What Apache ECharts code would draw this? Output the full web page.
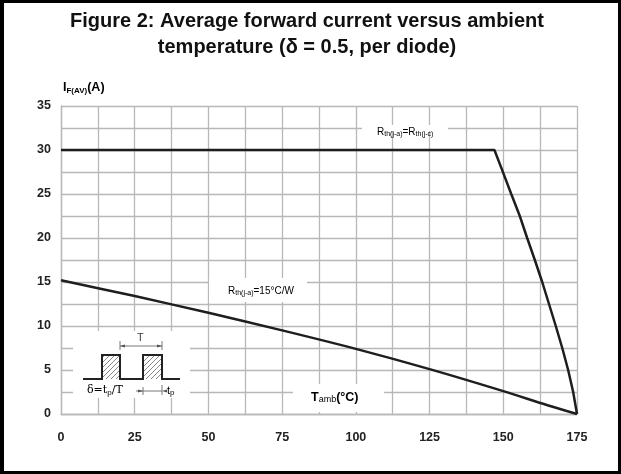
<!DOCTYPE html>
<html>
<head>
<meta charset="utf-8">
<script src="https://cdn.jsdelivr.net/npm/echarts@6/dist/echarts.min.js"></script>
<style>
html,body{margin:0;padding:0;background:#fff;}
#wrap{position:relative;width:621px;height:474px;}
#chart{position:absolute;left:0;top:0;width:621px;height:474px;}
#frame{position:absolute;left:0;top:0;width:621px;height:474px;box-sizing:border-box;border:3px solid #000;border-left-width:4px;pointer-events:none;}
</style>
</head>
<body>
<div id="wrap"><div id="chart"></div><div id="frame"></div></div>
<script>
// Curve: Rth(j-a) = Rth(j-c)
const tempA = [0, 147, 149.3, 152.7, 155.6, 158.1, 160.7, 163.2, 165.5, 167.8, 170, 172, 173.7, 175];
const currentA = [30, 30, 28, 25, 22.5, 20, 17.5, 15, 12.5, 10, 7.5, 5, 2.5, 0];
// Curve: Rth(j-a) = 15°C/W
const tempB = [0, 25, 50, 75, 100, 125, 150, 165, 175];
const currentB = [15.2, 13.4, 11.5, 9.5, 7.4, 5.1, 2.6, 1.0, 0];
const xMin = 0, xMax = 175, xStep = 25;
const yMin = 0, yMax = 35, yStep = 5;

const gridColor = '#b8b8b8';
const lineColor = '#1e1e1e';

// hatch pattern for pulses
const hc = document.createElement('canvas');
hc.width = 5; hc.height = 5;
const hx = hc.getContext('2d');
hx.strokeStyle = '#8a8a8a'; hx.lineWidth = 1;
hx.beginPath(); hx.moveTo(0,5); hx.lineTo(5,0); hx.stroke();
hx.beginPath(); hx.moveTo(-1,1); hx.lineTo(1,-1); hx.stroke();
hx.beginPath(); hx.moveTo(4,6); hx.lineTo(6,4); hx.stroke();

const chart = echarts.init(document.getElementById('chart'));
const subRich = {
  r: {fontSize: 10, color: '#444', fontFamily: 'Liberation Sans'},
  s: {fontSize: 7, color: '#444', fontFamily: 'Liberation Sans', verticalAlign: 'bottom', padding: [4,0,0,0]}
};
chart.setOption({
  animation: false,
  backgroundColor: '#fff',
  grid: {left: 61, right: 44, top: 106, bottom: 60, containLabel: false},
  xAxis: {
    type: 'value', min: xMin, max: xMax, interval: xStep,
    axisLine: {show: true, lineStyle: {color: gridColor, width: 1.3}},
    axisTick: {show: false},
    axisLabel: {margin: 17, fontFamily: 'Liberation Sans', fontWeight: 'bold', fontSize: 12.5, color: '#222'},
    splitLine: {show: true, lineStyle: {color: gridColor, width: 1.3}},
    minorTick: {show: false, splitNumber: 2},
    minorSplitLine: {show: true, lineStyle: {color: gridColor, width: 1.3}}
  },
  yAxis: {
    type: 'value', min: yMin, max: yMax, interval: yStep,
    axisLine: {show: true, lineStyle: {color: gridColor, width: 1.3}},
    axisTick: {show: false},
    axisLabel: {margin: 10, fontFamily: 'Liberation Sans', fontWeight: 'bold', fontSize: 12.5, color: '#222'},
    splitLine: {show: true, lineStyle: {color: gridColor, width: 1.3}},
    minorTick: {show: false, splitNumber: 2},
    minorSplitLine: {show: true, lineStyle: {color: gridColor, width: 1.3}}
  },
  series: [
    {type: 'line', name: 'Rth(j-a)=Rth(j-c)', data: tempA.map((t,i)=>[t,currentA[i]]),
     showSymbol: false, symbol: 'none', smooth: false, z: 5,
     lineStyle: {color: lineColor, width: 2.5}},
    {type: 'line', name: 'Rth(j-a)=15°C/W', data: tempB.map((t,i)=>[t,currentB[i]]),
     showSymbol: false, symbol: 'none', smooth: 0.3, z: 5,
     lineStyle: {color: lineColor, width: 2.5}}
  ],
  graphic: [
    // title
    {type: 'text', z: 3, x: 307, y: 8, style: {
      text: 'Figure 2: Average forward current versus ambient\ntemperature (δ = 0.5, per diode)',
      textAlign: 'center', fontFamily: 'Liberation Sans', fontWeight: 'bold', fontSize: 20, lineHeight: 26, fill: '#111'}},
    // white patches behind labels
    {type: 'rect', z: 1, shape: {x: 362, y: 125, width: 86, height: 6}, style: {fill: '#fff'}},
    {type: 'rect', z: 1, shape: {x: 209, y: 278, width: 98, height: 24}, style: {fill: '#fff'}},
    {type: 'rect', z: 1, shape: {x: 73, y: 331, width: 117, height: 67}, style: {fill: '#fff'}},
    {type: 'rect', z: 1, shape: {x: 293, y: 384, width: 91, height: 28}, style: {fill: '#fff'}},
    // y axis title
    {type: 'text', z: 3, left: 63, top: 81, style: {
      text: '{b|I}{s|F(AV)}{b|(A)}',
      rich: {
        b: {fontFamily: 'Liberation Sans', fontWeight: 'bold', fontSize: 12.5, color: '#222'},
        s: {fontFamily: 'Liberation Sans', fontWeight: 'bold', fontSize: 8, color: '#222', padding: [6,0,0,0]}
      }}},
    // x axis title
    {type: 'text', z: 3, left: 311, top: 391, style: {
      text: '{b|T}{s|amb}{b|(°C)}',
      rich: {
        b: {fontFamily: 'Liberation Sans', fontWeight: 'bold', fontSize: 12.5, color: '#222'},
        s: {fontFamily: 'Liberation Sans', fontWeight: 'normal', fontSize: 9, color: '#222', padding: [5,0,0,0]}
      }}},
    // curve labels
    {type: 'text', z: 3, left: 377, top: 127, style: {text: '{r|R}{s|th(j-a)}{r|=R}{s|th(j-c)}', rich: subRich}},
    {type: 'text', z: 3, left: 228, top: 286, style: {text: '{r|R}{s|th(j-a)}{r|=15°C/W}', rich: subRich}},
    // inset: pulse waveform
    {type: 'rect', z: 3, shape: {x: 102, y: 355, width: 18, height: 24}, style: {fill: {image: hc, repeat: 'repeat'}}},
    {type: 'rect', z: 3, shape: {x: 143, y: 355, width: 19, height: 24}, style: {fill: {image: hc, repeat: 'repeat'}}},
    {type: 'polyline', z: 4, shape: {points: [[83,379],[102,379],[102,355],[120,355],[120,379],[143,379],[143,355],[162,355],[162,379],[180,379]]},
     style: {stroke: '#222', lineWidth: 2, fill: null}},
    // T dimension
    {type: 'line', z: 4, shape: {x1: 120, y1: 346, x2: 162, y2: 346}, style: {stroke: '#555', lineWidth: 0.8}},
    {type: 'line', z: 4, shape: {x1: 120, y1: 341, x2: 120, y2: 350}, style: {stroke: '#555', lineWidth: 0.8}},
    {type: 'line', z: 4, shape: {x1: 162, y1: 341, x2: 162, y2: 350}, style: {stroke: '#555', lineWidth: 0.8}},
    {type: 'polygon', z: 4, shape: {points: [[120,346],[125,344.5],[125,347.5]]}, style: {fill: '#555'}},
    {type: 'polygon', z: 4, shape: {points: [[162,346],[157,344.5],[157,347.5]]}, style: {fill: '#555'}},
    {type: 'text', z: 4, left: 137, top: 332, style: {text: 'T', fontFamily: 'Liberation Sans', fontSize: 11, fill: '#444'}},
    // tp dimension
    {type: 'line', z: 4, shape: {x1: 136, y1: 391, x2: 162, y2: 391}, style: {stroke: '#555', lineWidth: 0.8}},
    {type: 'line', z: 4, shape: {x1: 143, y1: 387, x2: 143, y2: 395}, style: {stroke: '#555', lineWidth: 0.8}},
    {type: 'line', z: 4, shape: {x1: 162, y1: 385, x2: 162, y2: 395}, style: {stroke: '#555', lineWidth: 0.8}},
    {type: 'polygon', z: 4, shape: {points: [[143,391],[138,389.5],[138,392.5]]}, style: {fill: '#555'}},
    {type: 'polygon', z: 4, shape: {points: [[162,391],[167,389.5],[167,392.5]]}, style: {fill: '#555'}},
    {type: 'text', z: 4, left: 87, top: 385, style: {
      text: '{a|δ=t}{s|p}{a|/T}',
      rich: {a: {fontFamily: 'DejaVu Serif', fontSize: 11, color: '#444'}, s: {fontFamily: 'Liberation Sans', fontSize: 8, color: '#444', padding: [4,0,0,0]}}}},
    {type: 'text', z: 4, left: 167, top: 385, style: {
      text: '{a|t}{s|p}',
      rich: {a: {fontFamily: 'Liberation Sans', fontSize: 11, color: '#444'}, s: {fontFamily: 'Liberation Sans', fontSize: 8, color: '#444', padding: [4,0,0,0]}}}}
  ]
});
</script>
</body>
</html>
